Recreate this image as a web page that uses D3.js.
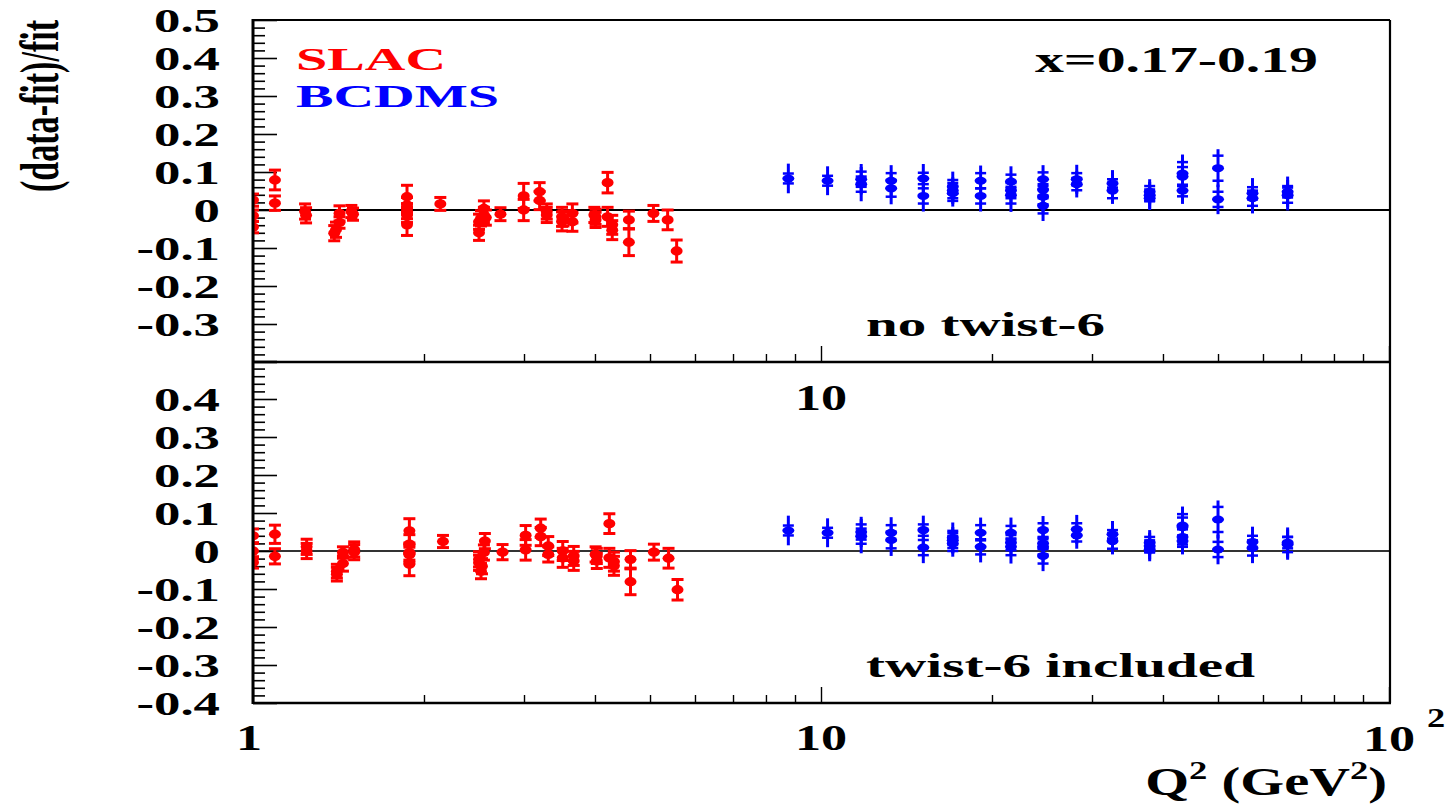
<!DOCTYPE html>
<html><head><meta charset="utf-8">
<script src="https://cdn.jsdelivr.net/npm/d3@7"></script>
<style>html,body{margin:0;padding:0;background:#fff}svg{display:block}text{font-family:"Liberation Serif","Times New Roman",serif;font-weight:bold}</style>
</head><body><svg id="c" width="1452" height="804"></svg>
<script>
// ---- data: [Q2, value, error] ----
const slacTop = [
[1.0,0.026,0.016],[1.0,-0.015,0.015],[1.0,-0.045,0.015],
[1.093,0.079,0.026],[1.093,0.018,0.019],
[1.235,-0.004,0.02],[1.24,-0.014,0.02],
[1.39,-0.061,0.02],[1.40,-0.052,0.02],[1.42,-0.033,0.015],[1.42,-0.009,0.02],
[1.49,-0.004,0.016],[1.50,-0.011,0.016],
[1.867,0.035,0.03],[1.867,0.013,0.02],[1.867,-0.003,0.02],[1.867,-0.013,0.02],[1.867,-0.039,0.028],
[2.137,0.016,0.017],
[2.50,-0.031,0.02],[2.50,-0.06,0.02],[2.52,-0.022,0.02],[2.55,0.004,0.02],[2.55,-0.013,0.02],[2.57,-0.02,0.02],
[2.727,-0.011,0.017],
[2.996,0.037,0.033],[2.996,0.0,0.028],
[3.196,0.048,0.024],[3.196,0.025,0.024],
[3.29,-0.004,0.02],[3.29,-0.013,0.02],
[3.50,-0.018,0.025],[3.50,-0.03,0.025],[3.52,-0.022,0.02],
[3.65,-0.009,0.025],[3.65,-0.031,0.025],
[4.01,-0.018,0.02],[4.01,-0.026,0.02],[3.99,-0.013,0.02],
[4.21,0.072,0.027],[4.21,-0.018,0.025],
[4.29,-0.039,0.025],[4.29,-0.053,0.025],
[4.59,-0.026,0.023],[4.59,-0.085,0.035],
[5.07,-0.009,0.021],
[5.37,-0.026,0.026],
[5.57,-0.108,0.029]
];
const slacBottom = [
[1.0,0.04,0.018],[1.0,0.0,0.02],[1.0,-0.03,0.015],
[1.093,0.044,0.024],[1.093,-0.014,0.02],
[1.243,0.011,0.02],[1.243,0.0,0.02],
[1.405,-0.061,0.018],[1.405,-0.053,0.018],[1.44,-0.033,0.02],[1.44,-0.004,0.015],
[1.507,0.004,0.02],[1.507,-0.003,0.02],
[1.885,0.053,0.032],[1.885,0.018,0.025],[1.885,-0.004,0.02],[1.885,-0.01,0.02],[1.885,-0.035,0.03],
[2.16,0.025,0.016],
[2.50,-0.022,0.02],[2.50,-0.031,0.02],[2.52,-0.053,0.02],[2.56,0.026,0.02],[2.55,-0.004,0.02],[2.53,-0.04,0.02],
[2.75,-0.003,0.02],
[3.02,0.041,0.026],[3.02,0.003,0.027],
[3.21,0.06,0.024],[3.21,0.038,0.024],
[3.31,0.013,0.025],[3.31,-0.009,0.02],
[3.51,0.0,0.025],[3.51,-0.018,0.025],
[3.67,-0.013,0.025],[3.67,-0.026,0.025],
[4.03,-0.013,0.02],[4.03,-0.026,0.02],[4.01,-0.009,0.02],
[4.24,0.072,0.026],[4.24,-0.018,0.025],
[4.32,-0.039,0.025],[4.32,-0.028,0.025],
[4.62,-0.022,0.023],[4.62,-0.081,0.034],
[5.08,-0.003,0.021],
[5.39,-0.019,0.026],
[5.59,-0.102,0.027]
];
// ---- data: [Q2, value, stat error, total error] ----
const bcdmsTop = [
[8.76,0.083,0.013,0.039],
[10.27,0.077,0.013,0.038],
[11.77,0.081,0.02,0.04],[11.77,0.068,0.02,0.045],
[13.29,0.077,0.02,0.041],[13.29,0.057,0.022,0.042],
[15.14,0.083,0.015,0.038],[15.14,0.037,0.02,0.041],
[17.06,0.061,0.018,0.04],[17.06,0.051,0.02,0.035],[17.06,0.044,0.02,0.035],
[19.1,0.077,0.02,0.04],[19.1,0.037,0.02,0.041],
[21.6,0.075,0.018,0.04],[21.6,0.051,0.02,0.035],[21.6,0.039,0.022,0.044],
[24.6,0.081,0.018,0.037],[24.6,0.053,0.015,0.035],[24.6,0.035,0.02,0.04],[24.6,0.011,0.02,0.04],
[28.2,0.081,0.016,0.038],[28.2,0.068,0.016,0.035],
[32.6,0.07,0.011,0.035],[32.6,0.051,0.02,0.035],
[37.9,0.048,0.015,0.033],[37.9,0.039,0.015,0.035],[37.9,0.031,0.008,0.031],
[43.3,0.096,0.03,0.05],[43.3,0.088,0.025,0.045],[43.3,0.051,0.015,0.035],
[50.0,0.11,0.033,0.05],[50.0,0.028,0.02,0.039],
[57.5,0.044,0.016,0.04],[57.5,0.031,0.02,0.04],
[66.3,0.048,0.015,0.04],[66.3,0.039,0.02,0.04]
];
const bcdmsBottom = [
[8.76,0.054,0.013,0.039],
[10.27,0.048,0.013,0.038],
[11.77,0.05,0.02,0.04],[11.77,0.039,0.02,0.045],
[13.29,0.048,0.02,0.041],[13.29,0.029,0.022,0.042],
[15.14,0.055,0.015,0.038],[15.14,0.009,0.02,0.041],
[17.06,0.035,0.018,0.04],[17.06,0.028,0.02,0.035],[17.06,0.02,0.02,0.035],
[19.1,0.048,0.02,0.04],[19.1,0.011,0.02,0.041],
[21.6,0.048,0.018,0.04],[21.6,0.022,0.02,0.035],[21.6,0.011,0.022,0.044],
[24.6,0.055,0.018,0.037],[24.6,0.02,0.015,0.035],[24.6,0.011,0.02,0.04],[24.6,-0.013,0.02,0.04],
[28.2,0.057,0.016,0.038],[28.2,0.041,0.016,0.035],
[32.6,0.044,0.011,0.035],[32.6,0.026,0.02,0.035],
[37.9,0.022,0.015,0.033],[37.9,0.013,0.015,0.035],[37.9,0.004,0.008,0.031],
[43.3,0.067,0.03,0.05],[43.3,0.063,0.025,0.045],[43.3,0.026,0.015,0.035],[43.3,0.037,0.02,0.04],
[50.0,0.083,0.033,0.05],[50.0,0.004,0.02,0.039],
[57.5,0.024,0.016,0.04],[57.5,0.008,0.02,0.04],
[66.3,0.022,0.015,0.04],[66.3,0.017,0.02,0.04]
];
const xMajorTicks = [1, 10, 100];
const yTicksTop = [0.5,0.4,0.3,0.2,0.1,0,-0.1,-0.2,-0.3];
const yTicksBottom = [0.4,0.3,0.2,0.1,0,-0.1,-0.2,-0.3,-0.4];
const yDomain = [-0.4, 0.5];
const xDomain = [1, 100];

// ---- drawing ----
const svg = d3.select("#c");
const L = 253, R = 1390;
const x = d3.scaleLog().domain(xDomain).range([L, R - 1]);
const xMinor = x.ticks().filter(t => !xMajorTicks.includes(t));
const panels = [
  {top: 20, bot: 362, slac: slacTop, bcdms: bcdmsTop, ticks: yTicksTop, zeroCol: "#000"},
  {top: 361, bot: 703, slac: slacBottom, bcdms: bcdmsBottom, ticks: yTicksBottom, zeroCol: "#333"}
];
const fmt = d => d === 0 ? "0" : d.toFixed(1);

panels.forEach((p, i) => {
  const y = d3.scaleLinear().domain(yDomain).range([p.bot, p.top]);
  const g = svg.append("g");
  const cid = "clip" + i;
  svg.append("clipPath").attr("id", cid).append("rect")
    .attr("x", L).attr("y", p.top).attr("width", R - L).attr("height", p.bot - p.top);

  // zero line
  g.append("line").attr("x1", L).attr("x2", R).attr("y1", y(0)).attr("y2", y(0))
    .attr("stroke", p.zeroCol).attr("stroke-width", i === 0 ? 1.8 : 2.2);

  // y axis ticks (inside)
  const yMinor = y.ticks(45).filter(t => Math.abs(Math.round(t * 10) - t * 10) > 1e-6);
  const ga1 = g.append("g").attr("transform", `translate(${L},0)`)
    .call(d3.axisRight(y).tickValues(y.ticks(9)).tickSize(24).tickFormat(""));
  const ga2 = g.append("g").attr("transform", `translate(${L},0)`)
    .call(d3.axisRight(y).tickValues(yMinor).tickSize(12).tickFormat(""));
  [ga1, ga2].forEach(a => { a.select(".domain").remove(); a.selectAll("line").attr("stroke", "#000").attr("stroke-width", 1.6); });

  // x axis ticks (pointing up)
  const gx1 = g.append("g").attr("transform", `translate(0,${p.bot})`)
    .call(d3.axisBottom(x).tickValues(xMajorTicks).tickSize(-16).tickFormat(""));
  const gx2 = g.append("g").attr("transform", `translate(0,${p.bot})`)
    .call(d3.axisBottom(x).tickValues(xMinor).tickSize(-8).tickFormat(""));
  [gx1, gx2].forEach(a => { a.select(".domain").remove(); a.selectAll("line").attr("stroke", "#000").attr("stroke-width", 1.4); });

  // y tick labels
  g.selectAll(".yl").data(p.ticks).enter().append("text")
    .attr("transform", d => `translate(220,${y(d) + 12}) scale(1.6,1)`)
    .attr("text-anchor", "end").attr("font-size", 33).attr("fill", "#000").text(fmt);

  const dg = g.append("g").attr("clip-path", `url(#${cid})`);
  // SLAC
  const red = "#ff0000";
  p.slac.forEach(d => {
    const cx = x(d[0]), cy = y(d[1]), y1 = y(d[1] + d[2]), y2 = y(d[1] - d[2]);
    dg.append("line").attr("x1", cx).attr("x2", cx).attr("y1", y1).attr("y2", y2).attr("stroke", red).attr("stroke-width", 3);
    [y1, y2].forEach(yy => dg.append("line").attr("x1", cx - 6).attr("x2", cx + 6).attr("y1", yy).attr("y2", yy).attr("stroke", red).attr("stroke-width", 3));
    dg.append("ellipse").attr("cx", cx).attr("cy", cy).attr("rx", 6).attr("ry", 4.7).attr("fill", red);
  });
  // BCDMS
  const blue = "#0000ff";
  p.bcdms.forEach(d => {
    const cx = x(d[0]), cy = y(d[1]);
    dg.append("line").attr("x1", cx).attr("x2", cx).attr("y1", y(d[1] + d[3])).attr("y2", y(d[1] - d[3])).attr("stroke", blue).attr("stroke-width", 3);
    [y(d[1] + d[2]), y(d[1] - d[2])].forEach(yy => dg.append("line").attr("x1", cx - 5.5).attr("x2", cx + 5.5).attr("y1", yy).attr("y2", yy).attr("stroke", blue).attr("stroke-width", 2.5));
    dg.append("ellipse").attr("cx", cx).attr("cy", cy).attr("rx", 6).attr("ry", 4).attr("fill", blue);
  });
});

// frame
const fr = svg.append("g").attr("stroke", "#000").attr("fill", "none");
fr.append("line").attr("x1", L).attr("x2", R).attr("y1", 20).attr("y2", 20).attr("stroke-width", 2);
fr.append("line").attr("x1", R).attr("x2", R).attr("y1", 20).attr("y2", 703).attr("stroke-width", 2.2);
fr.append("line").attr("x1", L).attr("x2", R).attr("y1", 362).attr("y2", 362).attr("stroke-width", 2.6);
fr.append("line").attr("x1", L).attr("x2", R + 1).attr("y1", 703).attr("y2", 703).attr("stroke-width", 2.6);
fr.append("line").attr("x1", L).attr("x2", L).attr("y1", 19).attr("y2", 704).attr("stroke-width", 3);

// x tick labels
const tl = svg.append("g").attr("fill", "#000");
tl.append("text").attr("transform", `translate(${x(1) - 4},750) scale(1.45,1)`).attr("text-anchor", "middle").attr("font-size", 36).text("1");
tl.append("text").attr("transform", `translate(${x(10)},750) scale(1.45,1)`).attr("text-anchor", "middle").attr("font-size", 36).text("10");
tl.append("text").attr("transform", `translate(${x(10)},410) scale(1.45,1)`).attr("text-anchor", "middle").attr("font-size", 36).text("10");
tl.append("text").attr("transform", `translate(${x(100)},751) scale(1.45,1)`).attr("text-anchor", "middle").attr("font-size", 36).text("10");
tl.append("text").attr("transform", `translate(1427,727) scale(1.3,1)`).attr("text-anchor", "start").attr("font-size", 28).text("2");

// axis titles
const xt = svg.append("text").attr("transform", "translate(1387,795) scale(1.41,1)").attr("text-anchor", "end").attr("font-size", 40).attr("fill", "#000");
xt.append("tspan").text("Q");
xt.append("tspan").attr("font-size", 26).attr("dy", -16).text("2");
xt.append("tspan").attr("dy", 16).text(" (GeV");
xt.append("tspan").attr("font-size", 26).attr("dy", -16).text("2");
xt.append("tspan").attr("dy", 16).text(")");

svg.append("text").attr("transform", "translate(58,106) rotate(-90) scale(1,1.6)")
  .attr("text-anchor", "middle").attr("font-size", 34).attr("fill", "#000")
  .attr("textLength", 172).attr("lengthAdjust", "spacingAndGlyphs").text("(data-fit)/fit");

// legend and annotations
const ann = (txt, xx, yy, w, col, fs) => svg.append("text").attr("x", xx).attr("y", yy)
  .attr("font-size", fs).attr("fill", col).attr("textLength", w).attr("lengthAdjust", "spacingAndGlyphs").text(txt);
ann("SLAC", 296, 70, 150, "#ff0000", 32);
ann("BCDMS", 296, 107, 203, "#0000ff", 32);
ann("x=0.17-0.19", 1035, 72, 283, "#000", 35);
ann("no twist-6", 866, 336, 239, "#000", 33);
ann("twist-6 included", 866, 677, 389, "#000", 33);
</script></body></html>
